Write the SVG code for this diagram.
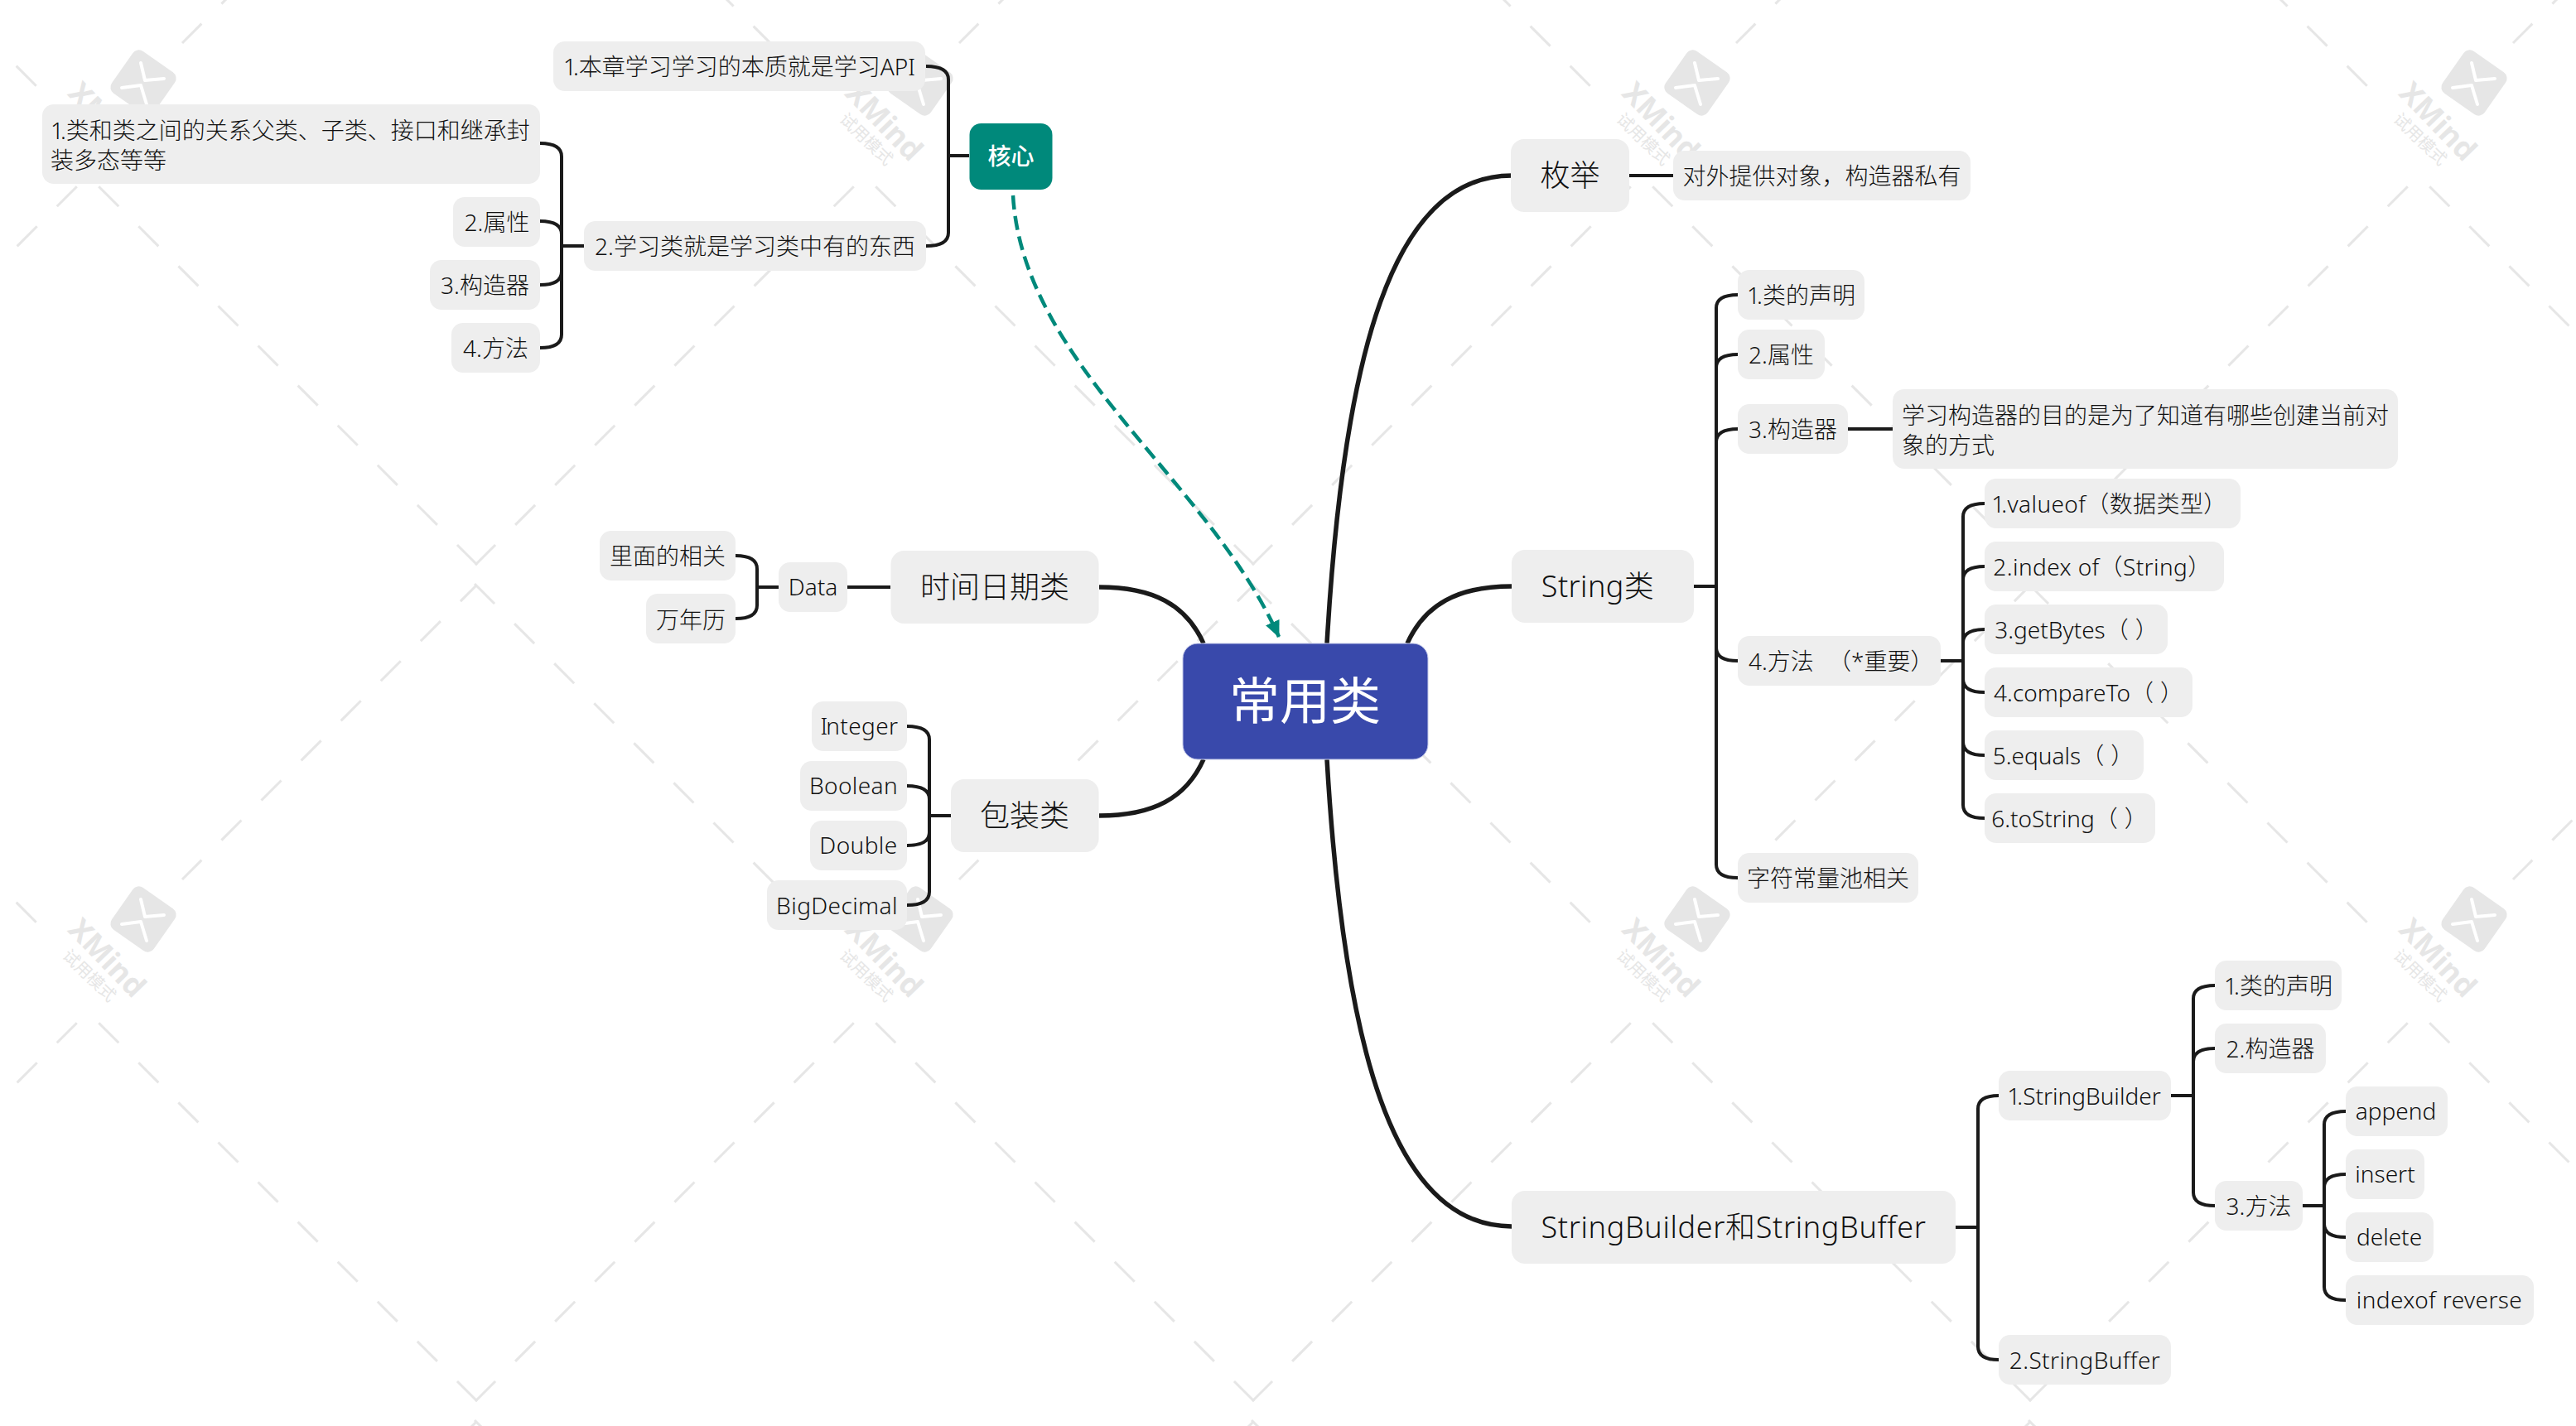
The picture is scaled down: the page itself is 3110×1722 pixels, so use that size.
<svg xmlns="http://www.w3.org/2000/svg" width="3110" height="1722" viewBox="0 0 3110 1722">
<style>
text{font-family:"Noto Sans","Noto Sans CJK SC",sans-serif;fill:#111;font-size:28px;font-weight:300;text-anchor:middle}
.l{text-anchor:start}
.m{font-size:36px}
.o{letter-spacing:-4px}
.s{letter-spacing:.4px}
text.w{fill:#fff;font-weight:400}
.n rect{fill:#eeeeee}
.c path{fill:none;stroke:#1a1a1a;stroke-width:4}
.c .b{stroke-width:5.5}
.d{fill:none;stroke:#e6e6e6;stroke-width:3;stroke-dasharray:34 34}
text.wt{fill:#e6e6e6;font-weight:700;font-size:36px}
text.ws{fill:#e6e6e6;font-size:20px;font-weight:400}
</style>
<defs>
<marker id="arr" markerUnits="userSpaceOnUse" markerWidth="24" markerHeight="24" refX="19" refY="9" orient="auto"><path d="M0 0L20 9L0 18Z" fill="#00897b"/></marker>
<g id="wm">
<path class="d" d="M576 682L118 224"/>
<path class="d" d="M574 682L1032 224"/>
<path class="d" stroke-dashoffset="7" d="M575 707L220 1062"/>
<path class="d" d="M573 705L982 1114"/>
<rect x="142" y="69" width="62" height="62" rx="9" transform="rotate(35 173 100)" fill="#e6e6e6"/>
<path d="M170 76L175 97L198 95M147 106L170 103L177 126" fill="none" stroke="#fff" stroke-width="4" stroke-linecap="round" stroke-linejoin="round"/>
<text class="wt" transform="translate(129 147) rotate(46)" y="12">XMind</text>
<text class="ws" transform="translate(108 168) rotate(44)" y="7">试用模式</text>
</g>
</defs>
<rect width="3110" height="1722" fill="#fff"/>
<g id="watermark">
<use href="#wm" x="-938" y="-1010"/><use href="#wm" x="0" y="-1010"/><use href="#wm" x="938" y="-1010"/><use href="#wm" x="1876" y="-1010"/><use href="#wm" x="2814" y="-1010"/>
<use href="#wm" x="-938" y="0"/><use href="#wm" x="0" y="0"/><use href="#wm" x="938" y="0"/><use href="#wm" x="1876" y="0"/><use href="#wm" x="2814" y="0"/>
<use href="#wm" x="-938" y="1010"/><use href="#wm" x="0" y="1010"/><use href="#wm" x="938" y="1010"/><use href="#wm" x="1876" y="1010"/><use href="#wm" x="2814" y="1010"/>
</g>
<g id="connectors" class="c">
<path class="b" d="M1602 777C1622 430 1680 212 1825 212"/>
<path class="b" d="M1699 777C1720 730 1760 708 1825 708"/>
<path class="b" d="M1602 917C1622 1260 1680 1481 1825 1481"/>
<path class="b" d="M1453 777C1432 730 1392 709 1327 709"/>
<path class="b" d="M1453 917C1432 964 1392 985 1327 985"/>
<path d="M1967 212H2020M2045 708H2072M2231 518H2285M2343 798H2370M2361 1482H2388M2621 1323H2648M2780 1456H2806M1170 188H1145M705 297H678M1148 985H1122M1075 709H1023M940 709H914"/>
<path d="M2072 708V372Q2072 356 2098 356M2072 708V444Q2072 428 2098 428M2072 708V534Q2072 518 2098 518M2072 708V782Q2072 798 2098 798M2072 708V1044Q2072 1060 2098 1060"/>
<path d="M2370 798V624Q2370 608 2396 608M2370 798V700Q2370 684 2396 684M2370 798V776Q2370 760 2396 760M2370 798V820Q2370 836 2396 836M2370 798V896Q2370 912 2396 912M2370 798V972Q2370 988 2396 988"/>
<path d="M2388 1482V1339Q2388 1323 2413 1323M2388 1482V1626Q2388 1642 2413 1642"/>
<path d="M2648 1323V1206Q2648 1190 2674 1190M2648 1323V1282Q2648 1266 2674 1266M2648 1323V1440Q2648 1456 2674 1456"/>
<path d="M2806 1456V1358Q2806 1342 2832 1342M2806 1456V1434Q2806 1418 2832 1418M2806 1456V1478Q2806 1494 2832 1494M2806 1456V1554Q2806 1570 2832 1570"/>
<path d="M1145 188V96Q1145 80 1118 80M1145 188V281Q1145 297 1118 297"/>
<path d="M678 297V189Q678 173 652 173M678 297V283Q678 267 652 267M678 297V328Q678 344 652 344M678 297V404Q678 420 652 420"/>
<path d="M914 709V687Q914 671 888 671M914 709V731Q914 747 888 747"/>
<path d="M1122 985V893Q1122 877 1095 877M1122 985V965Q1122 949 1095 949M1122 985V1005Q1122 1021 1095 1021M1122 985V1077Q1122 1093 1095 1093"/>
<path d="M1223 236C1235 440 1460 580 1544 769" style="stroke:#00897b;stroke-width:4.5;stroke-dasharray:17 8" marker-end="url(#arr)"/>
</g>
<g id="root"><rect x="1428" y="777" width="296" height="140" rx="18" fill="#3949ab" stroke="#c5cae9" stroke-width="1"/><text class="w" x="1575.5" y="869" style="font-size:61px">常用类</text></g>
<g id="core"><rect x="1170.5" y="149" width="100" height="80" rx="14" fill="#00897b"/><text class="w" x="1220.5" y="199" style="font-weight:500">核心</text></g>
<g class="n">
<g id="n1"><rect x="668" y="50" width="449" height="60" rx="14"/><text x="892.5" y="91"><tspan class="o">1</tspan>.本章学习学习的本质就是学习API</text></g>
<g id="n2"><rect x="705" y="267" width="413" height="60" rx="14"/><text x="911.5" y="308">2.学习类就是学习类中有的东西</text></g>
<g id="n3"><rect x="51" y="126" width="601" height="96" rx="14"/><text class="l" x="61" y="168"><tspan class="o">1</tspan>.类和类之间的关系父类、子类、接口和继承封</text><text class="l" x="61" y="204">装多态等等</text></g>
<g id="n4"><rect x="547" y="238" width="105" height="60" rx="14"/><text x="600" y="279">2.属性</text></g>
<g id="n5"><rect x="519" y="314" width="133" height="60" rx="14"/><text x="585.5" y="355">3.构造器</text></g>
<g id="n6"><rect x="545" y="390" width="107" height="60" rx="14"/><text x="598.5" y="431">4.方法</text></g>
<g id="n7"><rect x="724" y="641" width="164" height="60" rx="14"/><text x="806" y="682">里面的相关</text></g>
<g id="n8"><rect x="780" y="717" width="108" height="60" rx="14"/><text x="834" y="759">万年历</text></g>
<g id="n9"><rect x="940" y="679" width="83" height="60" rx="14"/><text x="981.5" y="719">Data</text></g>
<g id="n10"><rect x="1075.5" y="665" width="251" height="88" rx="16"/><text class="m" x="1201" y="722">时间日期类</text></g>
<g id="n11"><rect x="980" y="847" width="115" height="60" rx="14"/><text class="s" x="1037.5" y="887"><tspan class="o" style="letter-spacing:-2px">I</tspan>nteger</text></g>
<g id="n12"><rect x="966" y="919" width="129" height="60" rx="14"/><text class="s" x="1030.5" y="959">Boolean</text></g>
<g id="n13"><rect x="978" y="991" width="117" height="60" rx="14"/><text class="s" x="1036.5" y="1031">Double</text></g>
<g id="n14"><rect x="926" y="1063" width="169" height="60" rx="14"/><text class="s" x="1010.5" y="1104">BigDecimal</text></g>
<g id="n15"><rect x="1148" y="941" width="178.500" height="88" rx="16"/><text class="m" x="1237" y="998">包装类</text></g>
<g id="n16"><rect x="1824" y="168" width="143" height="88" rx="16"/><text class="m" x="1895.500" y="225">枚举</text></g>
<g id="n17"><rect x="2020" y="182" width="359" height="60" rx="14"/><text x="2199.500" y="223">对外提供对象，构造器私有</text></g>
<g id="n18"><rect x="1825" y="664" width="220" height="88" rx="16"/><text class="m s" x="1929" y="721">String类</text></g>
<g id="n19"><rect x="2098" y="326" width="153" height="60" rx="14"/><text x="2174.500" y="367"><tspan class="o">1</tspan>.类的声明</text></g>
<g id="n20"><rect x="2098" y="398" width="105" height="60" rx="14"/><text x="2150.500" y="439">2.属性</text></g>
<g id="n21"><rect x="2098" y="488" width="133" height="60" rx="14"/><text x="2164.500" y="529">3.构造器</text></g>
<g id="n22"><rect x="2285" y="470" width="610" height="96" rx="14"/><text class="l" x="2296" y="512">学习构造器的目的是为了知道有哪些创建当前对</text><text class="l" x="2296" y="548">象的方式</text></g>
<g id="n23"><rect x="2098" y="768" width="245" height="60" rx="14"/><text class="l" x="2111" y="809">4.方法 <tspan dx="10">（*重要）</tspan></text></g>
<g id="n24"><rect x="2396" y="578" width="309" height="60" rx="14"/><text class="s" x="2546.500" y="619"><tspan class="o">1</tspan>.valueof（数据类型）</text></g>
<g id="n25"><rect x="2396" y="654" width="289" height="60" rx="14"/><text class="s" x="2538" y="695">2.index of（String）</text></g>
<g id="n26"><rect x="2396" y="730" width="221" height="60" rx="14"/><text x="2507" y="771">3.getBytes（<tspan dx="8">）</tspan></text></g>
<g id="n27"><rect x="2396" y="806" width="251" height="60" rx="14"/><text x="2521.500" y="847">4.compareTo（<tspan dx="8">）</tspan></text></g>
<g id="n28"><rect x="2396" y="882" width="192" height="60" rx="14"/><text x="2491" y="923">5.equals（<tspan dx="8">）</tspan></text></g>
<g id="n29"><rect x="2396" y="958" width="206" height="60" rx="14"/><text x="2498.500" y="999">6.toString（<tspan dx="8">）</tspan></text></g>
<g id="n30"><rect x="2098" y="1030" width="218" height="60" rx="14"/><text x="2207" y="1071">字符常量池相关</text></g>
<g id="n31"><rect x="1825" y="1438" width="536" height="88" rx="16"/><text class="m" style="letter-spacing:.65px" x="2093" y="1495">StringBuilder和StringBuffer</text></g>
<g id="n32"><rect x="2413" y="1293" width="208" height="60" rx="14"/><text x="2516" y="1334"><tspan class="o">1</tspan>.StringBuilder</text></g>
<g id="n33"><rect x="2413" y="1612" width="208" height="60" rx="14"/><text class="s" x="2517" y="1653">2.StringBuffer</text></g>
<g id="n34"><rect x="2674" y="1160" width="153" height="60" rx="14"/><text x="2750.500" y="1201"><tspan class="o">1</tspan>.类的声明</text></g>
<g id="n35"><rect x="2674" y="1236" width="134" height="60" rx="14"/><text x="2741" y="1277">2.构造器</text></g>
<g id="n36"><rect x="2674" y="1426" width="106" height="60" rx="14"/><text x="2727" y="1467">3.方法</text></g>
<g id="n37"><rect x="2832" y="1312" width="123" height="60" rx="14"/><text x="2892.500" y="1352">append</text></g>
<g id="n38"><rect x="2832" y="1388" width="95" height="60" rx="14"/><text x="2879.500" y="1428">insert</text></g>
<g id="n39"><rect x="2832" y="1464" width="106" height="60" rx="14"/><text x="2884.500" y="1504">delete</text></g>
<g id="n40"><rect x="2832" y="1540" width="227" height="60" rx="14"/><text class="s" x="2945" y="1580">indexof reverse</text></g>
</g>
</svg>
